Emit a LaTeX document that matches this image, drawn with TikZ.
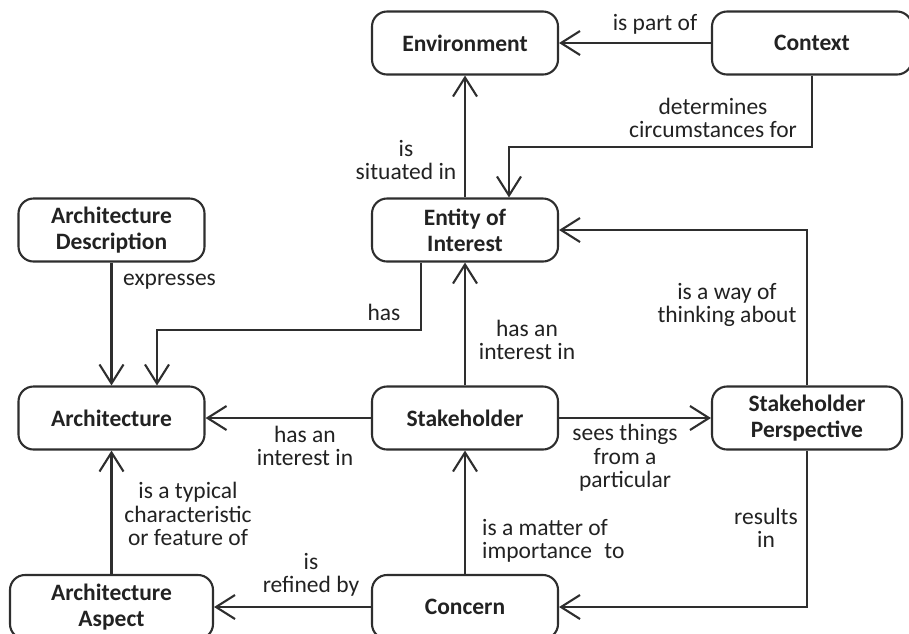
\documentclass[tikz,border=0pt]{standalone}
\usepackage{fontspec}
\setmainfont{Carlito}
\usetikzlibrary{arrows.meta}
\definecolor{ink}{HTML}{2E2E2E}
\definecolor{txt}{HTML}{222222}
\begin{document}
\begin{tikzpicture}[x=1pt,y=-1pt,
  concept/.style={draw=ink, line width=2.1pt, rounded corners=15pt, fill=white,
    minimum height=63pt, minimum width=186pt, align=center, inner sep=0pt,
    font=\fontsize{23.5}{26}\selectfont\bfseries, text=txt},
  rel/.style={draw=ink, line width=2.1pt, -{Straight Barb[length=19pt,width=24pt]}},
  lbl/.style={font=\fontsize{23.5}{23.5}\selectfont, text=txt, align=center, inner sep=0pt}]
\useasboundingbox (0,0) rectangle (909,633);

% concepts
\node[concept] (env) at (465,43) {Environment};
\node[concept, minimum width=200pt] (ctx) at (812,43) {Context};
\node[concept] (ent) at (465,230) {Entity of\\Interest};
\node[concept] (ad) at (111.5,230) {Architecture\\Description};
\node[concept] (arch) at (111.5,418) {Architecture};
\node[concept] (stk) at (465,418) {Stakeholder};
\node[concept, minimum width=190pt] (sp) at (807,418) {Stakeholder\\Perspective};
\node[concept, minimum width=203pt, minimum height=64pt] (asp) at (111.5,607) {Architecture\\Aspect};
\node[concept, minimum height=64pt] (con) at (465,607) {Concern};

% bend points
\coordinate (k1) at (509,147);
\coordinate (k2) at (421,330);
\coordinate (k3) at (157,330);

% relations
\draw[rel] (ctx.west) -- (env.east);
\draw[rel] (ent.north) -- (env.south);
\draw[rel] (ctx.south) |- (k1) -- (k1 |- ent.north);
\draw[rel] (ad.south) -- (arch.north);
\draw[rel] (k2 |- ent.south) -- (k2) -- (k3) -- (k3 |- arch.north);
\draw[rel] (stk.north) -- (ent.south);
\draw[rel] (stk.west) -- (arch.east);
\draw[rel] (stk.east) -- (sp.west);
\draw[rel] (sp.north) |- (ent.east);
\draw[rel] (asp.north) -- (arch.south);
\draw[rel] (con.west) -- (asp.east);
\draw[rel] (con.north) -- (stk.south);
\draw[rel] (sp.south) |- (con.east);

% relation labels
\node[lbl] (lpart) at (655,24) {is part of};
\node[lbl] (lsit) at (406,160) {is\\situated in};
\node[lbl] (ldet) at (713,118) {determines\\circumstances for};
\node[lbl, anchor=west] (lexp) at (123,282) {expresses};
\node[lbl] (lhas) at (384,312) {has};
\node[lbl] (lint1) at (527,340) {has an\\interest in};
\node[lbl] (lint2) at (305,446) {has an\\interest in};
\node[lbl] (lsees) at (625,458) {sees things\\from a\\particular};
\node[lbl] (lway) at (727,305) {is a way of\\thinking about};
\node[lbl] (ltyp) at (188,514) {is a typical\\characteristic\\or feature of};
\node[lbl] (lref) at (311,575) {is\\refined by};
\node[lbl, align=left, anchor=west] (lmat) at (482,541) {is a matter of\\importance\hspace{0.3em} to};
\node[lbl] (lres) at (766,528) {results\\in};
\end{tikzpicture}
\end{document}
